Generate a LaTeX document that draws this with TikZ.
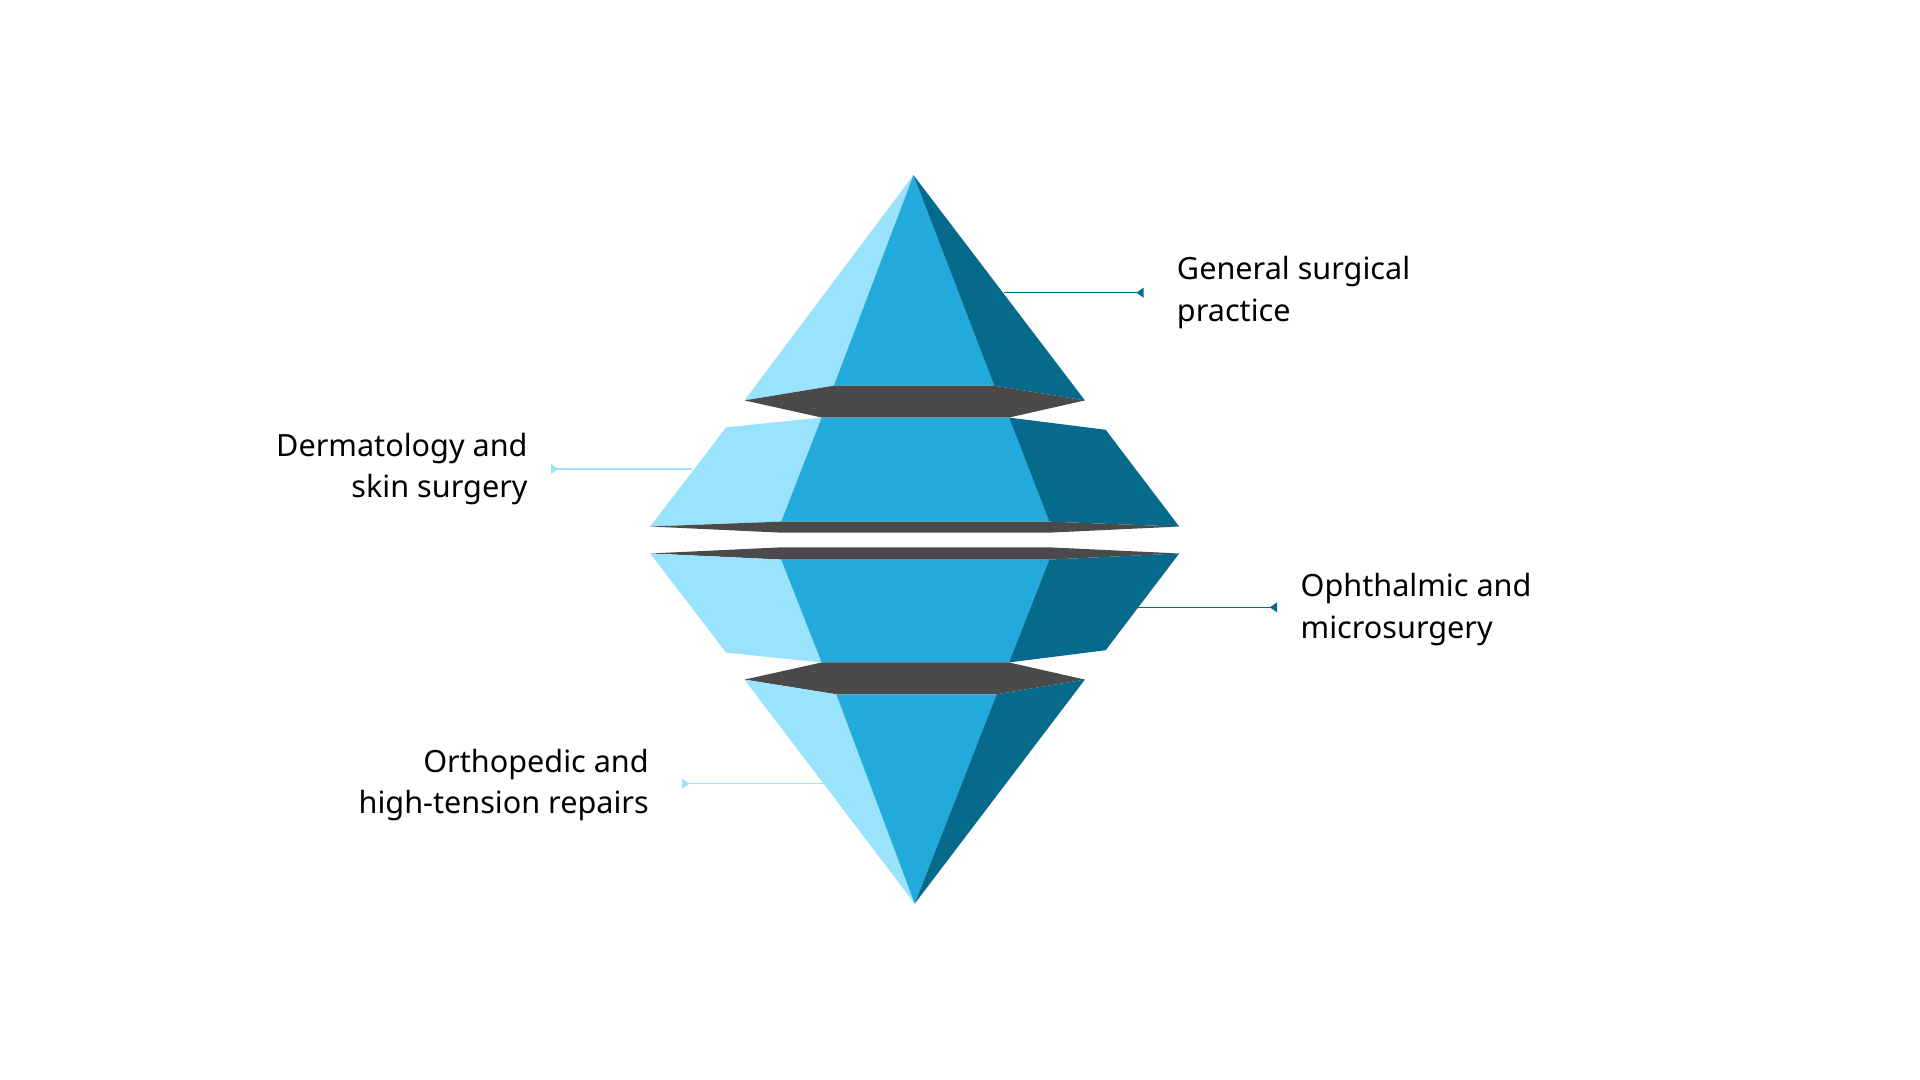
\documentclass[tikz,border=0pt]{standalone}
\usepackage{fontspec}
\setmainfont{Noto Sans}
\usetikzlibrary{arrows.meta}
\definecolor{lt}{HTML}{9AE3FC}
\definecolor{md}{HTML}{21AADB}
\definecolor{dk}{HTML}{056A8C}
\definecolor{bd}{HTML}{4A4A4A}
\begin{document}
\begin{tikzpicture}[x=1pt,y=-1pt,
  lbl/.style={font=\fontsize{25}{34}\selectfont, text=black, inner sep=0pt},
  con/.style={line width=1.3pt, -{Triangle[reversed,length=6pt,width=8pt]}}]
\useasboundingbox (0,0) rectangle (1568,882);
% top piece
\fill[lt] (746,143) -- (608,327) -- (681,315) -- cycle;
\fill[md] (746,143) -- (681,315) -- (812,315) -- cycle;
\fill[dk] (746,143) -- (812,315) -- (886,327) -- cycle;
\fill[bd] (608,327) -- (681,315) -- (812,315) -- (886,327) -- (824,341) -- (671,341) -- cycle;
% upper frustum
\fill[lt] (593,349) -- (671,341) -- (638,426) -- (531,430) -- cycle;
\fill[md] (671,341) -- (824,341) -- (857,426) -- (638,426) -- cycle;
\fill[dk] (824,341) -- (903,351) -- (963,430) -- (857,426) -- cycle;
\fill[bd] (531,430) -- (638,426) -- (857,426) -- (963,430) -- (857,435) -- (638,435) -- cycle;
% lower band and frustum
\fill[bd] (531,452) -- (638,447) -- (857,447) -- (963,452) -- (857,457) -- (638,457) -- cycle;
\fill[lt] (531,452) -- (638,457) -- (671,541) -- (593,533) -- cycle;
\fill[md] (638,457) -- (857,457) -- (824,541) -- (671,541) -- cycle;
\fill[dk] (857,457) -- (963,452) -- (903,531) -- (824,541) -- cycle;
\fill[bd] (608,555) -- (671,541) -- (824,541) -- (886,555) -- (814,567) -- (683,567) -- cycle;
% bottom piece
\fill[lt] (747,738) -- (608,555) -- (683,567) -- cycle;
\fill[md] (747,738) -- (683,567) -- (814,567) -- cycle;
\fill[dk] (747,738) -- (814,567) -- (886,555) -- cycle;
% connectors
\coordinate (g1) at (820,239); \coordinate (g2) at (934,239);
\coordinate (d1) at (565,383); \coordinate (d2) at (450,383);
\coordinate (o1) at (928,496); \coordinate (o2) at (1043,496);
\coordinate (r1) at (672,640); \coordinate (r2) at (557,640);
\draw[con, dk] (g1) -- (g2);
\draw[con, lt] (d1) -- (d2);
\draw[con, dk] (o1) -- (o2);
\draw[con, lt] (r1) -- (r2);
% labels
\node[lbl, anchor=west, align=left] (tg) at (961,239) {General surgical\\practice};
\node[lbl, anchor=east, align=right] (td) at (431,383) {Dermatology and\\skin surgery};
\node[lbl, anchor=west, align=left] (to) at (1062,498) {Ophthalmic and\\microsurgery};
\node[lbl, anchor=east, align=right] (tr) at (530,641) {Orthopedic and\\high-tension repairs};
\end{tikzpicture}
\end{document}
